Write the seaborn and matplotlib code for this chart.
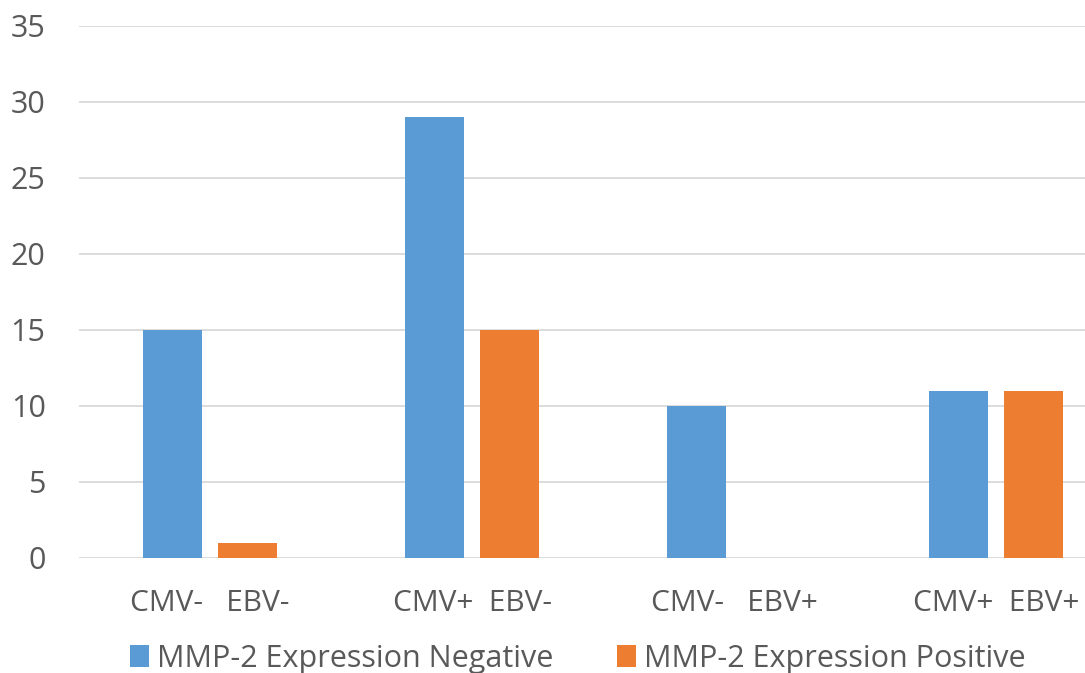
import matplotlib
matplotlib.use("Agg")
import matplotlib.pyplot as plt
import seaborn as sns
import pandas as pd
from matplotlib.patches import Patch

# Patient groups by viral status
categories = ["CMV-   EBV-", "CMV+  EBV-", "CMV-   EBV+", "CMV+  EBV+"]
series_names = ["MMP-2 Expression Negative", "MMP-2 Expression Positive"]
negative_counts = [15, 29, 10, 11]
positive_counts = [1, 15, 0, 11]
y_ticks = [0, 5, 10, 15, 20, 25, 30, 35]

colors = ["#5B9BD5", "#ED7D31"]
text_color = "#595959"
grid_color = "#D9D9D9"

df = pd.DataFrame({
    "group": categories * 2,
    "count": negative_counts + positive_counts,
    "series": [series_names[0]] * len(categories) + [series_names[1]] * len(categories),
})

sns.set_theme(style="white")
plt.rcParams["font.family"] = ["Open Sans", "DejaVu Sans"]

fig = plt.figure(figsize=(10.85, 6.73), dpi=100)
ax = fig.add_axes([0.0728, 0.1709, 0.966, 0.791])

sns.barplot(
    data=df, x="group", y="count", hue="series", order=categories,
    hue_order=series_names, palette=colors, saturation=1,
    width=0.573, gap=0.22, linewidth=0, ax=ax, legend=False,
)

ax.set_ylim(0, 35)
ax.set_yticks(y_ticks)
ax.set_yticklabels([str(t) for t in y_ticks])
ax.set_xlim(-0.5, len(categories) - 0.5)
ax.set_xlabel("")
ax.set_ylabel("")

ax.yaxis.grid(True, color=grid_color, linewidth=1.3)
ax.set_axisbelow(True)
for side in ["top", "right", "left", "bottom"]:
    ax.spines[side].set_visible(False)

ax.tick_params(axis="y", length=0, pad=24, labelsize=22, labelcolor=text_color)
ax.tick_params(axis="x", length=0, pad=22, labelsize=21.5, labelcolor=text_color)

handles = [Patch(facecolor=c, edgecolor="none") for c in colors]
fig.legend(
    handles, series_names, loc="center", ncol=2,
    bbox_to_anchor=(578 / 1085, 1 - 659 / 673),
    frameon=False, fontsize=22, labelcolor=text_color,
    handlelength=0.62, handleheight=0.72, handletextpad=0.25,
    columnspacing=2.1, borderpad=0,
)

fig.savefig("out.png", dpi=100)
